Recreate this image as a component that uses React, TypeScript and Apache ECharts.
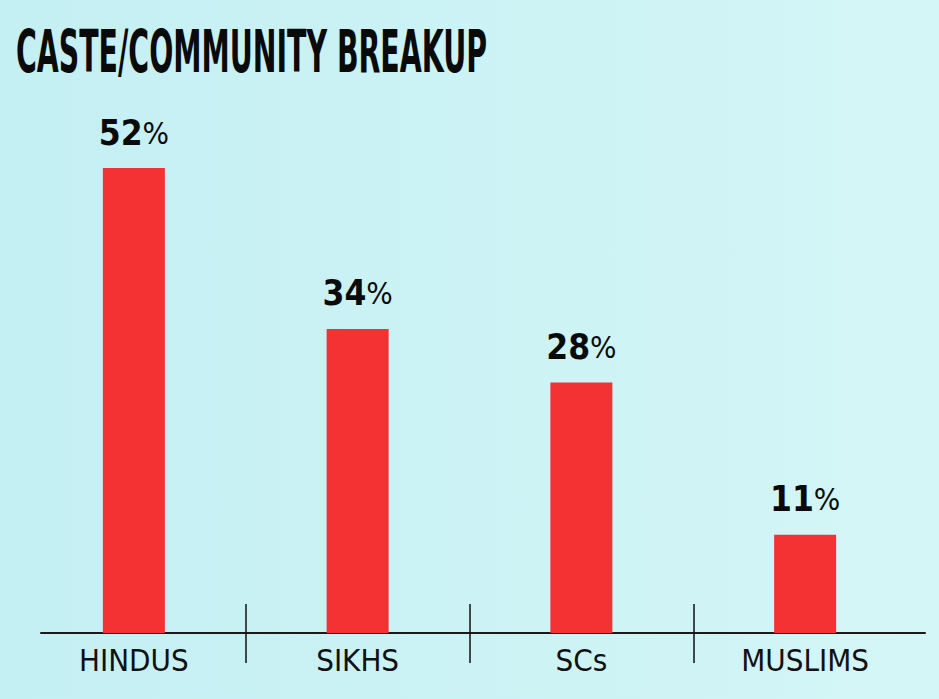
import React, { useEffect, useRef } from "react";
import * as echarts from "echarts";

// Community shares, in percent
const categories = ["HINDUS", "SIKHS", "SCs", "MUSLIMS"];
const shares = [52, 34, 28, 11];
// Separators sit on the boundaries between the category bands
const separatorPositions = [1, 2, 3];
const titleText = "CASTE/COMMUNITY BREAKUP";

const NARROW = '"Liberation Sans Narrow", "DejaVu Sans Condensed", Arial, sans-serif';

function measure(text: string, font: string): number {
  const ctx = document.createElement("canvas").getContext("2d");
  if (!ctx) return text.length * 30;
  ctx.font = font;
  return ctx.measureText(text).width;
}

export default function App() {
  const ref = useRef<HTMLDivElement>(null);

  useEffect(() => {
    if (!ref.current) return;
    const chart = echarts.init(ref.current, undefined, { renderer: "svg" });

    const titleSize = 58;
    const titleWidth = measure(titleText, `bold ${titleSize}px ${NARROW}`);
    const titleScale = 471 / titleWidth;

    const tickStyle = { color: "#111", width: 1.5 };
    const separatorAxis = (inside: boolean) => ({
      type: "value",
      gridIndex: 0,
      position: "bottom",
      min: 0,
      max: categories.length,
      axisLine: { show: false },
      splitLine: { show: false },
      axisLabel: { show: false },
      axisTick: {
        show: true,
        inside,
        length: inside ? 29 : 30,
        customValues: separatorPositions,
        lineStyle: tickStyle,
      },
    });

    chart.setOption({
      animation: false,
      backgroundColor: new echarts.graphic.LinearGradient(0, 0, 1, 0, [
        { offset: 0, color: "#c4eff3" },
        { offset: 1, color: "#d4f6f7" },
      ]),
      graphic: [
        {
          type: "text",
          x: 16,
          y: 23,
          scaleX: titleScale,
          style: {
            text: titleText,
            fill: "#0a0a0a",
            font: `bold ${titleSize}px ${NARROW}`,
          },
        },
      ],
      grid: [
        { left: 22, right: 22, top: 168, bottom: 66 },
        { left: 41, right: 14, top: 168, bottom: 66 },
      ],
      xAxis: [
        {
          type: "category",
          gridIndex: 0,
          data: categories,
          axisLine: { show: false },
          axisTick: { show: false },
          axisLabel: {
            color: "#111",
            fontFamily: NARROW,
            fontSize: 31,
            margin: 11,
          },
        },
        separatorAxis(true),
        separatorAxis(false),
        {
          type: "category",
          gridIndex: 1,
          data: categories,
          axisLine: { show: true, lineStyle: { color: "#1a1a1a", width: 2 } },
          axisTick: { show: false },
          axisLabel: { show: false },
        },
      ],
      yAxis: [
        { type: "value", gridIndex: 0, min: 0, max: 52, show: false },
        { type: "value", gridIndex: 1, min: 0, max: 52, show: false },
      ],
      series: [
        {
          type: "bar",
          xAxisIndex: 0,
          yAxisIndex: 0,
          data: shares,
          barWidth: 62,
          itemStyle: { color: "#f43234" },
          label: {
            show: true,
            position: "top",
            distance: 18,
            formatter: (p: any) => `{n|${p.value}}{p|%}`,
            rich: {
              n: { fontFamily: NARROW, fontWeight: "bold", fontSize: 35, color: "#0a0a0a" },
              p: { fontFamily: NARROW, fontWeight: "normal", fontSize: 31, color: "#0a0a0a" },
            },
          },
        },
      ],
    });

    return () => chart.dispose();
  }, []);

  return (
    <div
      ref={ref}
      style={{ position: "fixed", left: 0, top: 0, width: 939, height: 699 }}
    />
  );
}
